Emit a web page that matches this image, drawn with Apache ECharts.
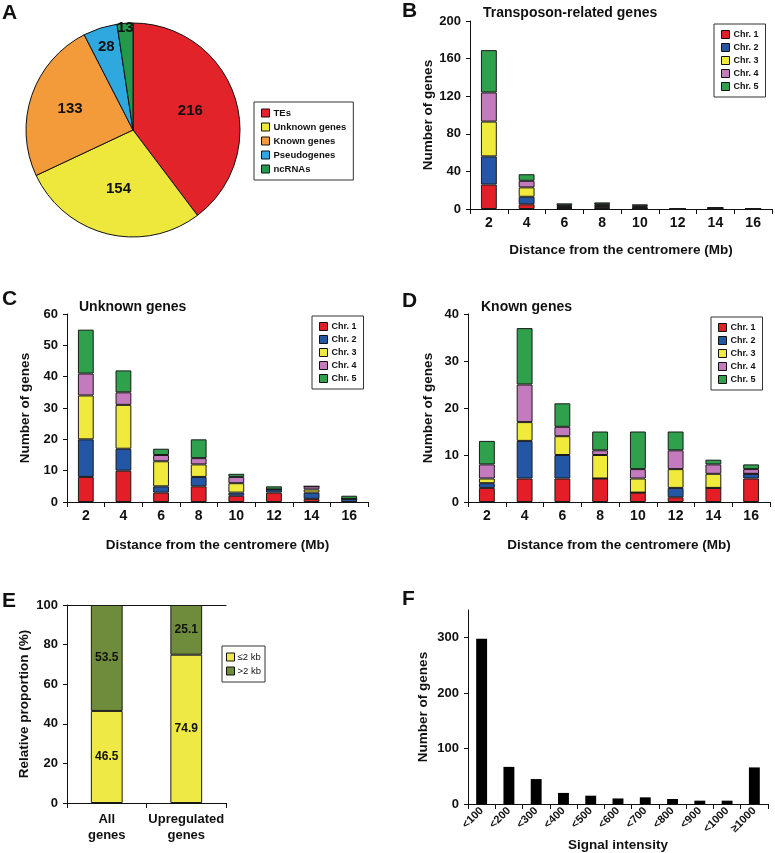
<!DOCTYPE html>
<html><head><meta charset="utf-8">
<script src="https://cdn.jsdelivr.net/npm/echarts@6/dist/echarts.min.js"></script>
<style>html,body{margin:0;padding:0;background:#fff}#c{width:775px;height:853px}</style>
</head><body><div id="c"></div>
<script>
// ---- Data ----
const pieNames = ['TEs', 'Unknown genes', 'Known genes', 'Pseudogenes', 'ncRNAs'];
const pieValues = [216, 154, 133, 28, 13];
const pieColors = ['#E3232A', '#EEE83C', '#F39A3B', '#2EA8DE', '#22994B'];

const distCats = ['2', '4', '6', '8', '10', '12', '14', '16'];
const chrNames = ['Chr. 1', 'Chr. 2', 'Chr. 3', 'Chr. 4', 'Chr. 5'];
const chrColors = ['#E31E26', '#2456A6', '#F0EA3C', '#C47BBD', '#2FA04C'];

const teChr1 = [26, 5, 1, 2, 0, 0, 0, 0];
const teChr2 = [30, 8, 1, 1, 1, 0, 1, 0];
const teChr3 = [37, 10, 1, 1, 1, 0, 0, 0];
const teChr4 = [31, 7, 1, 1, 1, 0, 0, 0];
const teChr5 = [45, 7, 2, 2, 2, 0, 1, 1];

const unkChr1 = [8, 10, 3, 5, 2, 3, 1, 0];
const unkChr2 = [12, 7, 2, 3, 1, 1, 2, 1];
const unkChr3 = [14, 14, 8, 4, 3, 0, 1, 0];
const unkChr4 = [7, 4, 2, 2, 2, 0, 1, 0];
const unkChr5 = [14, 7, 2, 6, 1, 1, 0, 1];

const knChr1 = [3, 5, 5, 5, 2, 1, 3, 5];
const knChr2 = [1, 8, 5, 0, 0, 2, 0, 1];
const knChr3 = [1, 4, 4, 5, 3, 4, 3, 0];
const knChr4 = [3, 8, 2, 1, 2, 4, 2, 1];
const knChr5 = [5, 12, 5, 4, 8, 4, 1, 1];

const propCats = ['All\ngenes', 'Upregulated\ngenes'];
const propNames = ['≤2 kb', '>2 kb'];
const propLe2 = [46.5, 74.9];
const propGt2 = [53.5, 25.1];

const sigCats = ['<100', '<200', '<300', '<400', '<500', '<600', '<700', '<800', '<900', '<1000', '≥1000'];
const sigValues = [298, 67, 45, 20, 15, 10, 12, 9, 6, 6, 66];

// ---- Chart ----
const FF = '"Liberation Sans", Arial, sans-serif';
const BLK = '#111';
const chart = echarts.init(document.getElementById('c'), null, {renderer: 'canvas'});

const grids = [
  {left: 470, top: 21, width: 302, height: 188},  // B
  {left: 67, top: 314, width: 301, height: 188},  // C
  {left: 468, top: 314, width: 302, height: 188}, // D
  {left: 67, top: 605, width: 159, height: 198},  // E
  {left: 468, top: 610, width: 300, height: 194}  // F
];

function catAxis(gi, data, extra) {
  return Object.assign({
    type: 'category', gridIndex: gi, data: data,
    axisLine: {lineStyle: {color: BLK, width: 1}},
    axisTick: {show: true, length: 5, lineStyle: {color: BLK}},
    axisLabel: {color: BLK, fontFamily: FF, fontWeight: 'bold', fontSize: 14, margin: 7},
    nameLocation: 'middle', nameGap: 34,
    nameTextStyle: {color: BLK, fontFamily: FF, fontWeight: 'bold', fontSize: 13.5}
  }, extra || {});
}
function valAxis(gi, max, interval, name, gap, extra) {
  return Object.assign({
    type: 'value', gridIndex: gi, min: 0, max: max, interval: interval,
    name: name, nameLocation: 'middle', nameGap: gap,
    nameTextStyle: {color: BLK, fontFamily: FF, fontWeight: 'bold', fontSize: 13.5},
    axisLine: {show: true, lineStyle: {color: BLK, width: 1}},
    axisTick: {show: true, length: 4, lineStyle: {color: BLK}},
    axisLabel: {color: BLK, fontFamily: FF, fontWeight: 'bold', fontSize: 13, margin: 9},
    splitLine: {show: false}
  }, extra || {});
}

const xAxes = [
  catAxis(0, distCats, {name: 'Distance from the centromere (Mb)', nameGap: 34}),
  catAxis(1, distCats, {name: 'Distance from the centromere (Mb)', nameGap: 36}),
  catAxis(2, distCats, {name: 'Distance from the centromere (Mb)', nameGap: 36}),
  catAxis(3, propCats, {axisLabel: {color: BLK, fontFamily: FF, fontWeight: 'bold', fontSize: 13, margin: 8, lineHeight: 16, interval: 0}}),
  catAxis(4, sigCats, {name: 'Signal intensity', nameGap: 34,
    axisLabel: {color: BLK, fontFamily: FF, fontWeight: 'bold', fontSize: 11, rotate: 45, margin: 5, interval: 0}}),
  {type: 'category', gridIndex: 3, position: 'top', data: propCats,
    axisLine: {show: true, lineStyle: {color: BLK, width: 1}}, axisTick: {show: false}, axisLabel: {show: false}}
];
const yAxes = [
  valAxis(0, 200, 40, 'Number of genes', 35),
  valAxis(1, 60, 10, 'Number of genes', 35),
  valAxis(2, 40, 10, 'Number of genes', 33),
  valAxis(3, 100, 20, 'Relative proportion (%)', 36),
  valAxis(4, 350, 100, 'Number of genes', 38, {axisLabel: {color: BLK, fontFamily: FF, fontWeight: 'bold', fontSize: 13, margin: 9, showMaxLabel: false}})
];

const series = [];
const barBorder = {borderColor: '#1a1a1a', borderWidth: 1};
function addStack(gi, arrs, stackName) {
  arrs.forEach((arr, i) => {
    series.push({
      type: 'bar', name: chrNames[i], xAxisIndex: gi, yAxisIndex: gi, stack: stackName,
      data: arr, barWidth: '42%', itemStyle: Object.assign({color: chrColors[i]}, barBorder),
      silent: true
    });
  });
}
addStack(0, [teChr1, teChr2, teChr3, teChr4, teChr5], 'te');
addStack(1, [unkChr1, unkChr2, unkChr3, unkChr4, unkChr5], 'unk');
addStack(2, [knChr1, knChr2, knChr3, knChr4, knChr5], 'kn');

const propLabel = {show: true, position: 'inside', color: BLK, fontFamily: FF, fontWeight: 'bold', fontSize: 12};
series.push({type: 'bar', name: propNames[0], xAxisIndex: 3, yAxisIndex: 3, stack: 'p', data: propLe2,
  barWidth: '40%', itemStyle: Object.assign({color: '#EEE944'}, barBorder), label: propLabel});
series.push({type: 'bar', name: propNames[1], xAxisIndex: 3, yAxisIndex: 3, stack: 'p', data: propGt2,
  barWidth: '40%', itemStyle: Object.assign({color: '#6E8C3B'}, barBorder), label: propLabel});

series.push({type: 'bar', name: 'Signal', xAxisIndex: 4, yAxisIndex: 4, data: sigValues,
  barWidth: '40%', itemStyle: {color: '#000'}});

// Pie
const pieCenter = [133, 130];
const pieData = pieNames.map((n, i) => ({name: n, value: pieValues[i], itemStyle: {color: pieColors[i]}}));
series.push({type: 'pie', name: 'genes', center: pieCenter, radius: [0, 107], startAngle: 90, clockwise: true,
  data: pieData, label: {show: false}, labelLine: {show: false},
  itemStyle: {borderColor: '#111', borderWidth: 1}, silent: true, animation: false});
// label overlays at different radial distances
function pieLabelLayer(r0, showIdx) {
  series.push({type: 'pie', name: 'lbl' + r0, center: pieCenter, radius: [r0, 107], startAngle: 90, clockwise: true,
    silent: true, animation: false, labelLine: {show: false},
    itemStyle: {color: 'rgba(0,0,0,0)', borderWidth: 0},
    data: pieNames.map((n, i) => ({name: n, value: pieValues[i],
      label: {show: showIdx.indexOf(i) >= 0, position: 'inside', formatter: '{c}', color: BLK,
        fontFamily: FF, fontWeight: 'bold', fontSize: 15}}))});
}
pieLabelLayer(8, [0, 1]);
pieLabelLayer(20, [2]);
pieLabelLayer(61, [3]);
pieLabelLayer(91, [4]);

function legend(left, top, data, font, pad, gap, extra) {
  return Object.assign({
    left: left, top: top, orient: 'vertical', data: data, icon: 'rect',
    itemWidth: 8, itemHeight: 8, itemGap: gap, itemStyle: {borderColor: '#111', borderWidth: 1},
    padding: pad, borderColor: '#333', borderWidth: 1, backgroundColor: '#fff', selectedMode: false,
    textStyle: {color: BLK, fontFamily: FF, fontWeight: 'bold', fontSize: font, padding: [0, 0, 0, -1]}
  }, extra || {});
}

const titleStyle = {color: BLK, fontFamily: FF, fontWeight: 'bold', fontSize: 21};
const subStyle = {color: BLK, fontFamily: FF, fontWeight: 'bold', fontSize: 14};
function T(text, left, top, style) { return {text: text, left: left, top: top, padding: 0, textStyle: style}; }

chart.setOption({
  animation: false,
  backgroundColor: '#fff',
  title: [
    T('A', 2, 3, titleStyle), T('B', 402, 1, titleStyle), T('C', 2, 289, titleStyle),
    T('D', 402, 291, titleStyle), T('E', 2, 591, titleStyle), T('F', 402, 589, titleStyle),
    T('Transposon-related genes', 483, 6, subStyle),
    T('Unknown genes', 79, 300, subStyle),
    T('Known genes', 481, 300, subStyle)
  ],
  grid: grids,
  xAxis: xAxes,
  yAxis: yAxes,
  legend: [
    legend(254, 102, pieNames, 9.5, [6, 7], 4),
    legend(714, 24, chrNames, 9, [6, 7], 4),
    legend(312, 316, chrNames, 9, [6, 7], 4),
    legend(711, 317, chrNames, 9, [6, 7], 4),
    legend(222, 646, propNames, 9, [6, 4], 4, {textStyle: {color: BLK, fontFamily: '"Liberation Sans Narrow", "Liberation Sans", sans-serif', fontSize: 9.5, padding: [0, 0, 0, -2]}})
  ],
  series: series
});
</script>
</body></html>
